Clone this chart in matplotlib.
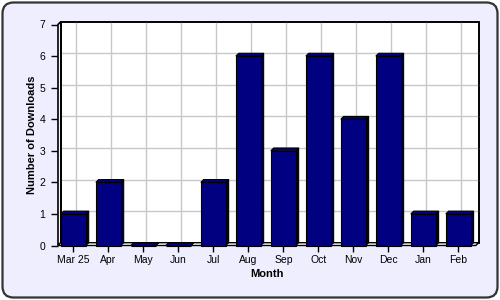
import numpy as np
import matplotlib
matplotlib.use('Agg')
import matplotlib.pyplot as plt
from matplotlib.patches import Polygon, FancyBboxPatch

months = ['Mar 25', 'Apr', 'May', 'Jun', 'Jul', 'Aug', 'Sep', 'Oct', 'Nov', 'Dec', 'Jan', 'Feb']
downloads = [1, 2, 0, 0, 2, 6, 3, 6, 4, 6, 1, 1]
y_ticks = [0, 1, 2, 3, 4, 5, 6, 7]

plt.rcParams['font.family'] = ['Liberation Sans', 'DejaVu Sans']

W, H = 500, 300
fig = plt.figure(figsize=(5, 3), dpi=100)
fig.patch.set_facecolor('white')

# background panel with rounded border
bg = fig.add_axes([0, 0, 1, 1])
bg.set_xlim(0, W)
bg.set_ylim(0, H)
bg.axis('off')
bg.add_patch(FancyBboxPatch((2.5, 2.5), 495, 295, boxstyle='round,pad=0,rounding_size=11',
                            fc='#EEEEFF', ec='#333333', lw=1.6))

# plot area (pixel geometry)
left, right = 58, 475.8
y0, y7 = 245.5, 24.5
ax = fig.add_axes([left / W, (H - y0) / H, (right - left) / W, (y0 - y7) / H])
xmin, xmax = -0.44, 11.5
ymax = 7
ax.set_xlim(xmin, xmax)
ax.set_ylim(0, ymax)
ax.patch.set_alpha(0)
for s in ax.spines.values():
    s.set_visible(False)

px_x = (right - left) / (xmax - xmin)
px_y = (y0 - y7) / ymax
dx = 2.8 / px_x
dy = 2.8 / px_y

def poly(pts, fc, z, lw=0.8):
    ax.add_patch(Polygon(pts, closed=True, fc=fc, ec='black', lw=lw, zorder=z, clip_on=False))

# back wall with grid
poly([(xmin + dx, dy), (xmax + dx, dy), (xmax + dx, ymax + dy), (xmin + dx, ymax + dy)], 'white', 1, lw=1.2)
for k in y_ticks[1:-1]:
    ax.plot([xmin + dx, xmax + dx], [k + dy, k + dy], c='#C8C8C8', lw=1, zorder=1.5, clip_on=False)
for i in range(len(months)):
    ax.plot([i + dx, i + dx], [dy, ymax + dy], c='#C8C8C8', lw=1, zorder=1.5, clip_on=False)
poly([(xmin + dx, dy), (xmax + dx, dy), (xmax + dx, ymax + dy), (xmin + dx, ymax + dy)], 'none', 1.6, lw=1.2)

# side wall and floor
poly([(xmin, 0), (xmin + dx, dy), (xmin + dx, ymax + dy), (xmin, ymax)], 'white', 2, lw=1.2)
poly([(xmin, 0), (xmax, 0), (xmax + dx, dy), (xmin + dx, dy)], 'white', 2, lw=1)

# 3d bars
bw = 0.714
navy = '#000080'
for i, v in enumerate(downloads):
    l, r = i - bw / 2, i + bw / 2
    poly([(r, 0), (r + dx, dy), (r + dx, v + dy), (r, v)], '#000022', 3)
    poly([(l, v), (r, v), (r + dx, v + dy), (l + dx, v + dy)], navy, 3)
    poly([(l, 0), (r, 0), (r, v), (l, v)], navy, 4)

ax.set_xticks(range(len(months)))
ax.set_xticklabels(months)
ax.set_yticks(y_ticks)
ax.tick_params(axis='x', length=4, width=1, pad=3, labelsize=7.5)
ax.tick_params(axis='y', length=5, width=1, pad=4, labelsize=7.5)
ax.set_xlabel('Month', fontsize=8, fontweight='bold', labelpad=2.5)
ax.set_ylabel('Number of Downloads', fontsize=8, fontweight='bold', labelpad=2)

plt.savefig('out.png', dpi=100, facecolor='white')
